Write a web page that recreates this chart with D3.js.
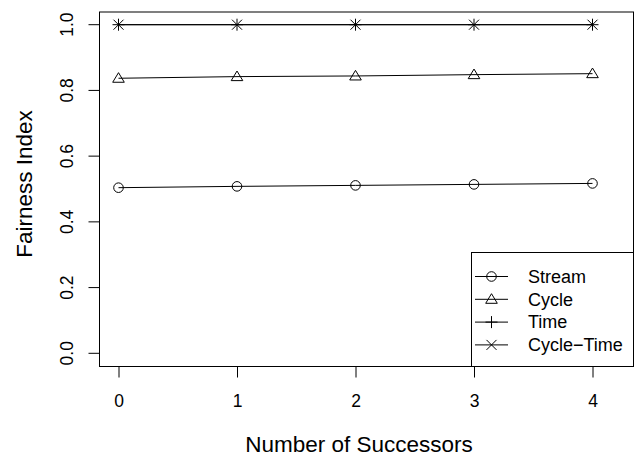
<!DOCTYPE html>
<html>
<head>
<meta charset="utf-8">
<script src="https://cdn.jsdelivr.net/npm/d3@7"></script>
<style>
  html, body { margin: 0; padding: 0; background: #fff; }
  svg { display: block; font-family: "Liberation Sans", Arial, Helvetica, sans-serif; }
</style>
</head>
<body>
<script>
// Fairness index per number of successors, one array per scheduling policy
const successors = [0, 1, 2, 3, 4];
const streamValues = [0.504, 0.508, 0.511, 0.514, 0.517];
const cycleValues = [0.837, 0.842, 0.844, 0.848, 0.851];
const timeValues = [1.0, 1.0, 1.0, 1.0, 1.0];
const cycleTimeValues = [1.0, 1.0, 1.0, 1.0, 1.0];
const seriesNames = ["Stream", "Cycle", "Time", "Cycle\u2212Time"];
const xTicks = [0, 1, 2, 3, 4];
const yTicks = [0.0, 0.2, 0.4, 0.6, 0.8, 1.0];

const W = 636, H = 458;
const box = { left: 99.5, right: 633.5, top: 12, bottom: 366.5 };
const tickFont = 17.5, titleFont = 22.5, legendFont = 18;
const FONT = "Liberation Sans, Arial, Helvetica, sans-serif";

const svg = d3.select("body").append("svg").attr("width", W).attr("height", H);

const x = d3.scaleLinear().domain([0, 4]).range([118.5, 592.5]);
const y = d3.scaleLinear().domain([0, 1]).range([353.3, 24.7]);

// plot frame
svg.append("rect")
  .attr("x", box.left).attr("y", box.top)
  .attr("width", box.right - box.left).attr("height", box.bottom - box.top)
  .attr("fill", "none").attr("stroke", "#000").attr("stroke-width", 1);

// bottom axis: outward ticks, the frame serves as the axis line
const xAxis = svg.append("g").attr("transform", `translate(0,${box.bottom})`)
  .call(d3.axisBottom(x).tickValues(xTicks).tickFormat(d3.format("d")).tickSize(11).tickPadding(0));
xAxis.select(".domain").remove();
xAxis.selectAll("text")
  .attr("font-size", tickFont).attr("font-family", FONT).attr("fill", "#000")
  .attr("y", 34).attr("dy", "0.35em");

// left axis: labels parallel to the axis
const yAxis = svg.append("g").attr("transform", `translate(${box.left},0)`)
  .call(d3.axisLeft(y).tickValues(yTicks).tickFormat(d3.format(".1f")).tickSize(11).tickPadding(0));
yAxis.select(".domain").remove();
yAxis.selectAll(".tick").attr("transform", null);
yAxis.selectAll(".tick line").attr("y1", d => y(d)).attr("y2", d => y(d));
yAxis.selectAll(".tick text")
  .attr("font-size", tickFont).attr("font-family", FONT).attr("fill", "#000")
  .attr("x", 0).attr("y", 0).attr("dy", "0.35em")
  .attr("text-anchor", "middle")
  .attr("transform", d => `translate(-33,${y(d)}) rotate(-90)`);

// axis titles
svg.append("text").attr("x", 359).attr("y", 452)
  .attr("text-anchor", "middle").attr("font-size", titleFont).text("Number of Successors");
svg.append("text").attr("transform", `translate(32,184) rotate(-90)`)
  .attr("text-anchor", "middle").attr("font-size", titleFont).text("Fairness Index");

// point symbols
function drawMarker(g, kind, cx, cy) {
  const s = 5;
  if (kind === "circle") {
    g.append("circle").attr("cx", cx).attr("cy", cy).attr("r", 4.8)
      .attr("fill", "none").attr("stroke", "#000").attr("stroke-width", 1);
  } else if (kind === "triangle") {
    g.append("path")
      .attr("d", `M${cx},${cy - 5.6} L${cx + 5.8},${cy + 4} L${cx - 5.8},${cy + 4} Z`)
      .attr("fill", "none").attr("stroke", "#000").attr("stroke-width", 1);
  } else if (kind === "plus") {
    g.append("path").attr("d", `M${cx - 6},${cy} H${cx + 6} M${cx},${cy - 6} V${cy + 6}`)
      .attr("stroke", "#000").attr("stroke-width", 1);
  } else if (kind === "cross") {
    g.append("path").attr("d", `M${cx - s},${cy - s} L${cx + s},${cy + s} M${cx - s},${cy + s} L${cx + s},${cy - s}`)
      .attr("stroke", "#000").attr("stroke-width", 1);
  }
}

const series = [
  { name: seriesNames[0], values: streamValues, marker: "circle" },
  { name: seriesNames[1], values: cycleValues, marker: "triangle" },
  { name: seriesNames[2], values: timeValues, marker: "plus" },
  { name: seriesNames[3], values: cycleTimeValues, marker: "cross" }
];

const line = d3.line().x((d, i) => x(successors[i])).y(d => y(d));
const plot = svg.append("g");
series.forEach(s => {
  plot.append("path").datum(s.values).attr("d", line)
    .attr("fill", "none").attr("stroke", "#000").attr("stroke-width", 1);
  s.values.forEach((v, i) => drawMarker(plot, s.marker, x(successors[i]), y(v)));
});

// legend
const lg = { left: 471.5, top: 252.5, right: box.right, bottom: box.bottom };
svg.append("rect").attr("x", lg.left).attr("y", lg.top)
  .attr("width", lg.right - lg.left).attr("height", lg.bottom - lg.top)
  .attr("fill", "#fff").attr("stroke", "#000").attr("stroke-width", 1);
series.forEach((s, i) => {
  const cy = 276.5 + i * 22.8;
  svg.append("line").attr("x1", 475).attr("x2", 508).attr("y1", cy).attr("y2", cy)
    .attr("stroke", "#000").attr("stroke-width", 1);
  drawMarker(svg, s.marker, 491.5, cy);
  svg.append("text").attr("x", 528).attr("y", cy).attr("dy", "0.35em")
    .attr("font-size", legendFont).text(s.name);
});
</script>
</body>
</html>
